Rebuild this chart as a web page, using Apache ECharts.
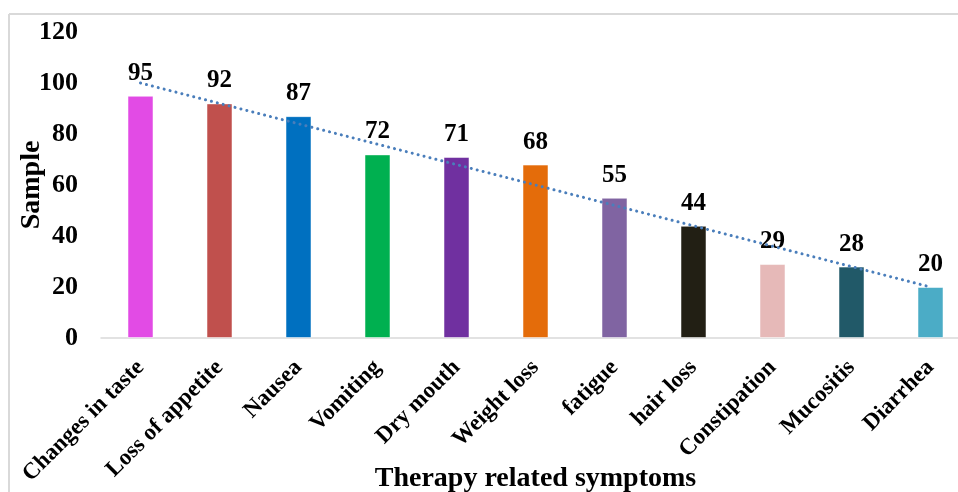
<!DOCTYPE html>
<html>
<head>
<meta charset="utf-8">
<script src="https://cdn.jsdelivr.net/npm/echarts@6/dist/echarts.min.js"></script>
<style>
html, body { margin: 0; padding: 0; background: #fff; }
#main { width: 958px; height: 492px; }
</style>
</head>
<body>
<div id="main"></div>
<script>
var symptoms = ['Changes in taste', 'Loss of appetite', 'Nausea', 'Vomiting', 'Dry mouth', 'Weight loss', 'fatigue', 'hair loss', 'Constipation', 'Mucositis', 'Diarrhea'];
var samples = [95, 92, 87, 72, 71, 68, 55, 44, 29, 28, 20];
var barColors = ['#E24BE5', '#C0504D', '#0070C0', '#00B050', '#7030A0', '#E46C0A', '#8064A2', '#221F14', '#E6B9B8', '#215968', '#4BACC6'];
// linear trendline, end values
var trendEnds = [100, 20];

var font = '"Liberation Serif", "Times New Roman", serif';

var myChart = echarts.init(document.getElementById('main'));
myChart.setOption({
	animation: false,
	backgroundColor: '#fff',
	graphic: [
		{ type: 'line', shape: { x1: 9, y1: 14, x2: 958, y2: 14 }, style: { stroke: '#d9d9d9', lineWidth: 2 } },
		{ type: 'line', shape: { x1: 9, y1: 14, x2: 9, y2: 492 }, style: { stroke: '#d9d9d9', lineWidth: 2 } }
	],
	grid: {
		left: 101,
		top: 32,
		width: 869,
		height: 306,
		outerBoundsMode: 'none'
	},
	xAxis: {
		type: 'category',
		data: symptoms,
		name: 'Therapy related symptoms',
		nameLocation: 'middle',
		nameGap: 127,
		nameMoveOverlap: false,
		nameTextStyle: { fontFamily: font, fontWeight: 'bold', fontSize: 28, color: '#000' },
		axisLine: { lineStyle: { color: '#d9d9d9', width: 1.5 } },
		axisTick: { show: false },
		axisLabel: {
			rotate: 45,
			margin: 26,
			interval: 0,
			fontFamily: font,
			fontWeight: 'bold',
			fontSize: 23,
			color: '#000'
		}
	},
	yAxis: {
		type: 'value',
		min: 0,
		max: 120,
		interval: 20,
		name: 'Sample',
		nameLocation: 'middle',
		nameGap: 55,
		nameMoveOverlap: false,
		nameTextStyle: { fontFamily: font, fontWeight: 'bold', fontSize: 28, color: '#000' },
		axisLine: { show: false },
		axisTick: { show: false },
		splitLine: { show: false },
		axisLabel: {
			margin: 23,
			fontFamily: font,
			fontWeight: 'bold',
			fontSize: 26,
			color: '#000'
		}
	},
	series: [{
		type: 'bar',
		data: samples.map(function(v, i) {
			return { value: v, itemStyle: { color: barColors[i] } };
		}),
		barWidth: 26,
		itemStyle: { borderColor: 'rgba(255,255,255,0.5)', borderWidth: 1 },
		label: {
			show: true,
			position: 'top',
			distance: 10,
			fontFamily: font,
			fontWeight: 'bold',
			fontSize: 25,
			color: '#000'
		},
		markLine: {
			silent: true,
			symbol: ['none', 'none'],
			label: { show: false },
			lineStyle: { color: '#4A7EBB', width: 3, type: [0.1, 6], cap: 'round' },
			data: [[
				{ coord: [symptoms[0], trendEnds[0]] },
				{ coord: [symptoms[symptoms.length - 1], trendEnds[1]] }
			]]
		}
	}]
});
</script>
</body>
</html>
